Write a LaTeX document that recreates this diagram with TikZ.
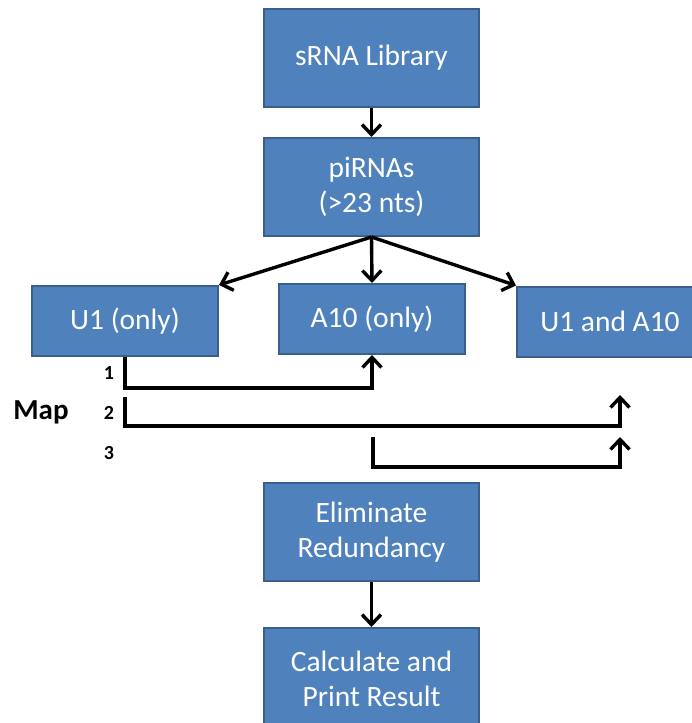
\documentclass[tikz,border=0pt]{standalone}
\usepackage{fontspec}
\setmainfont{Carlito}
\usetikzlibrary{arrows.meta}
\definecolor{boxfill}{HTML}{4F81BD}
\definecolor{boxline}{HTML}{3A5F8B}
\begin{document}
\begin{tikzpicture}[x=1pt,y=-1pt,
  procbox/.style={rectangle,draw=boxline,line width=2pt,fill=boxfill,text=white,
    align=center,inner sep=0pt,font=\fontsize{29.5}{35}\selectfont},
  flow/.style={line width=3.4pt,-{Straight Barb[length=10pt,width=19pt,line width=3.4pt]}},
  maplbl/.style={font=\bfseries\fontsize{20}{22}\selectfont,anchor=base}]
\useasboundingbox (0,0) rectangle (691,723);
% boxes
\node[procbox,minimum width=215pt,minimum height=98pt] (lib) at (371.5,58) {sRNA Library};
\node[procbox,minimum width=215pt,minimum height=98pt] (pi) at (371.5,187) {piRNAs\\(>23 nts)};
\node[procbox,minimum width=186pt,minimum height=70pt] (u1) at (125,321) {U1 (only)};
\node[procbox,minimum width=186pt,minimum height=70pt] (a10) at (372,319) {A10 (only)};
\node[procbox,minimum width=186pt,minimum height=70pt] (both) at (610,321.5) {U1 and A10};
\node[procbox,minimum width=215pt,minimum height=98pt] (elim) at (371.5,532) {Eliminate\\Redundancy};
\node[procbox,minimum width=215pt,minimum height=102pt] (calc) at (371.5,679) {Calculate and\\Print Result};
% flow arrows
\draw[flow] (lib.south) -- (pi.north);
\draw[flow] (pi.south) -- (u1.north east);
\draw[flow] (pi.south) -- (a10.north);
\draw[flow] (pi.south) -- (both.north west);
\draw[flow] (elim.south) -- (calc.north);
% mapping routes
\coordinate (m2a) at (125,397);
\coordinate (m2b) at (620,395);
\coordinate (m3a) at (373,437);
\coordinate (m3b) at (620,437);
\draw[flow] (u1.south) -- ++(0,31) -| (a10.south);
\draw[flow] (m2a) -- ++(0,29) -| (m2b);
\draw[flow] (m3a) -- ++(0,30) -| (m3b);
% labels
\node[maplbl] (n1) at (109,379) {1};
\node[maplbl] (n2) at (109,419) {2};
\node[maplbl] (n3) at (109,459) {3};
\node[font=\bfseries\fontsize{29}{32}\selectfont,anchor=base] (map) at (41,419) {Map};
\end{tikzpicture}
\end{document}
